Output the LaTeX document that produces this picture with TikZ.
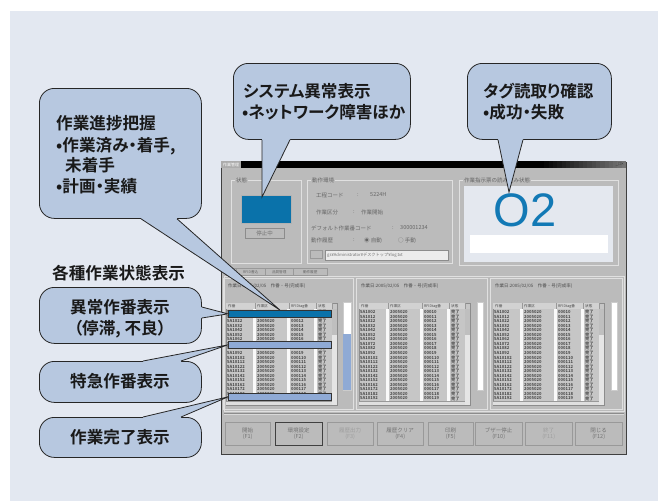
\documentclass[tikz,border=0pt]{standalone}
\usepackage{fontspec}
\newfontfamily\jpb{Noto Sans CJK JP Bold}[RawFeature=+palt]
\newfontfamily\jpr{Noto Sans CJK JP}
\newfontfamily\lsans{Liberation Sans}
\usetikzlibrary{calc}
\definecolor{bgc}{HTML}{E3E8F1}
\definecolor{bubc}{HTML}{B7C8E0}
\definecolor{winc}{HTML}{BBBBBB}
\definecolor{listc}{HTML}{C6C6C6}
\definecolor{darkblue}{HTML}{0A72AA}
\definecolor{lightbar}{HTML}{8FAAD5}
\definecolor{o2c}{HTML}{1279B5}
\definecolor{o2bg}{HTML}{E4E8EF}
\tikzset{
  bubble/.style={draw=black!85, fill=bubc, line width=0.8pt, rounded corners=15pt, inner sep=0, anchor=north west},
  tailline/.style={draw=black!85, line width=0.8pt},
  ctext/.style={font=\jpb\fontsize{16.6}{21}\selectfont, inner sep=0, text=black!90},
  ui/.style={font=\jpr\fontsize{5.5}{6}\selectfont, inner sep=0, text=black!60, anchor=west},
  tiny/.style={font=\jpr\fontsize{3.6}{4}\selectfont, inner sep=0, text=black!70, anchor=west},
  cell/.style={font=\jpb\fontsize{4.2}{4.5}\selectfont, inner sep=0, text=black!75, anchor=west},
  etched/.style={draw=white!88!black, line width=0.6pt},
  hbar/.style={draw=black!80, line width=0.7pt, inner sep=0, anchor=north west, minimum width=103, minimum height=7},
  btn/.style={draw=black!40, fill=winc, inner sep=0, anchor=north west, minimum height=23, align=center, font=\jpr\fontsize{5.5}{6.5}\selectfont, text=black!55},
  tseg/.style={inner sep=0, outer sep=0, anchor=north west, minimum height=7, minimum width=4.4},
}
\begin{document}
\begin{tikzpicture}[x=1pt,y=-1pt]
\useasboundingbox (0,0) rectangle (658,501);
\fill[white] (0,0) rectangle (658,501);
\fill[bgc] (10,11) rectangle (658,501);

% ---------- window ----------
\node[draw=black!75, line width=0.8pt, fill=winc, inner sep=0, anchor=north west, minimum width=405, minimum height=292] (win) at (221,162) {};

% title bar
\node[tseg, fill=black, minimum width=320] (tbar) at (221,161.3) {};
\foreach \i in {0,...,19}{
  \pgfmathsetmacro{\shadeval}{100-\i*2.4}
  \node[tseg, fill=black!\shadeval] (tseg\i) at ({540+\i*4.3},161.3) {};
}
\node[tseg, fill=gray!65, minimum width=20] (ticon) at (221,161.3) {};
\node[font=\jpr\fontsize{4}{4}\selectfont, text=white, inner sep=0, anchor=west] (wtitle) at (223,164.8) {作業管理};
\node[font=\lsans\fontsize{4.5}{4.5}\selectfont, text=black!80, inner sep=0, anchor=east] (wbtns) at (624,164.8) {\_□×};

% upper groups
\draw[etched] (231,180) rectangle (301,263);
\node[ui, fill=winc, inner xsep=1pt] (lstate) at (235,180) {状態};
\node[draw=black!30, fill=darkblue, inner sep=0, anchor=north west, minimum width=50, minimum height=28] (statbox) at (241,195) {};
\node[draw=black!45, fill=winc, inner sep=0, anchor=north west, minimum width=39, minimum height=10, font=\jpr\fontsize{5.5}{6}\selectfont, text=black!55] (stopbtn) at (245,228) {停止中};

\draw[etched] (307,180) rectangle (452,263);
\node[ui, fill=winc, inner xsep=1pt] (lenv) at (311,180) {動作環境};
\node[ui] (k1) at (316,195) {工程コード};
\node[ui] (s1) at (357,195) {:};
\node[ui] (v1) at (370,195) {5224H};
\node[ui] (k2) at (316,212) {作業区分};
\node[ui] (s2) at (353,212) {:};
\node[ui] (v2) at (361,212) {作業開始};
\node[ui] (k3) at (311,228) {デフォルト作業番コード};
\node[ui] (s3) at (392,228) {:};
\node[ui] (v3) at (400,228) {300001234};
\node[ui] (k4) at (311,240) {動作履歴};
\node[ui] (s4) at (353,240) {:};
\node[ui] (v4) at (364,240) {◉ 自動};
\node[ui] (v5) at (398,240) {○ 手動};
\node[draw=black!40, fill=winc, inner sep=0, anchor=north west, minimum width=12, minimum height=8] (fbtn) at (310,250) {};
\node[draw=black!45, fill=gray!15, inner sep=1pt, anchor=north west, minimum width=123, minimum height=10, font=\jpr\fontsize{4.2}{5}\selectfont, text=black!55, text width=119] (field) at (325,250) {gs¥Administrator¥デスクトップ¥log.txt};

\draw[etched] (459,180) rectangle (618,265);
\node[ui, fill=winc, inner xsep=1pt] (lread) at (463,180) {作業指示票の読み込み状態};
\node[fill=o2bg, inner sep=0, anchor=north west, minimum width=149, minimum height=76] (o2panel) at (464,186) {};
\node[fill=white, inner sep=0, anchor=north west, minimum width=138, minimum height=18] (o2bar) at (470,235) {};
\node[font=\lsans\fontsize{47}{47}\selectfont, text=o2c, inner sep=0] (o2) at (525,210) {O2};

% tabs
\foreach \i/\xa/\xb/\t in {1/226/236/一覧, 2/236/265/RFID書込, 3/265/293/品質管理, 4/293/327/動作履歴}{
  \node[draw=black!40, fill=winc, inner sep=0, anchor=north west, minimum width={\xb-\xa}, minimum height=7, font=\jpr\fontsize{3.6}{4}\selectfont, text=black!60] (tab\i) at (\xa,268) {\t};
}
\draw[etched] (224,276) rectangle (624,411);

% lower panels
\foreach \p/\fx/\fw/\lx/\pbx/\pbw in {1/223/130/226/343/8, 2/356/131/359/477/6, 3/490/132/493/611/6}{
  \draw[etched] (\fx,278) rectangle ({\fx+\fw},409);
  \node[tiny, font=\jpr\fontsize{4.5}{5}\selectfont] (hdr\p) at ({\lx+2},286) {作業日:2005/02/05\quad 作番・号(完成率)};
  \node[draw=black!45, fill=listc, inner sep=0, anchor=north west, minimum width=111, minimum height=102] (list\p) at (\lx,303) {};
  \fill[gray!35] (\lx,303) rectangle ({\lx+106},309);
  \foreach \r in {0,...,19}{
    \node[cell] (r\p-\r a) at ({\lx+1},{312+\r*4.55}) {5A10\r2};
    \node[cell] (r\p-\r b) at ({\lx+31},{312+\r*4.55}) {2005020};
    \node[cell] (r\p-\r c) at ({\lx+65},{312+\r*4.55}) {0001\r};
    \node[cell] (r\p-\r d) at ({\lx+92},{312+\r*4.55}) {完了};
  }
  \foreach \c in {27,61,88}{
    \fill[white!95!gray] ({\lx+\c},309) rectangle ({\lx+\c+2.5},401);
  }
  \foreach \c in {29,63,90,106}{
    \draw[black!40, line width=0.4pt] ({\lx+\c},303) -- ({\lx+\c},309);
  }
  \node[tiny] (ch\p a) at ({\lx+2},306) {作番};
  \node[tiny] (ch\p b) at ({\lx+31},306) {作業区};
  \node[tiny] (ch\p c) at ({\lx+65},306) {RFIDtag番};
  \node[tiny] (ch\p d) at ({\lx+92},306) {状態};
  \fill[gray!20] ({\lx+106},309) rectangle ({\lx+111},405);
  \fill[gray!50] ({\lx+106},309) rectangle ({\lx+111},335);
  \fill[gray!25] (\lx,401) rectangle ({\lx+106},405);
  \draw[black!40, line width=0.4pt] (\lx,401) -- ({\lx+106},401);
  \node[fill=white, draw=black!20, line width=0.3pt, inner sep=0, anchor=north west, minimum width=\pbw, minimum height=88] (pb\p) at (\pbx,302) {};
}
\fill[lightbar] (343.3,334) rectangle (350.7,389.7);

% highlight bars in panel 1
\node[hbar, fill=darkblue] (bar1) at (228,310) {};
\node[hbar, fill=lightbar] (bar2) at (228,341) {};
\node[hbar, fill=lightbar] (bar3) at (228,393) {};

% bottom buttons
\draw[black!45, line width=0.6pt] (224,413) -- (624,413);
\draw[white!85!black, line width=0.6pt] (224,414) -- (624,414);
\foreach \i/\xa/\xb/\t/\tc in {1/225/270/{開始\\(F1)}/black!55, 2/275/322/{環境設定\\(F2)}/black!55, 3/327/373/{履歴出力\\(F3)}/black!38, 4/377/423/{履歴クリア\\(F4)}/black!55, 5/428/473/{印刷\\(F5)}/black!55, 6/475/522/{ブザー停止\\(F10)}/black!55, 7/525/572/{終了\\(F11)}/black!38, 8/575/622/{閉じる\\(F12)}/black!55}{
  \node[btn, minimum width={\xb-\xa}, text=\tc] (b\i) at (\xa,422) {\t};
}
\draw[black!75, line width=0.9pt] (b2.north west) rectangle (b2.south east);

% ---------- callouts ----------
% c1
\node[bubble, minimum width=162, minimum height=130] (c1) at (39,88) {};
\coordinate (c1a) at ($(c1.south west)+(102,0)$);
\coordinate (c1b) at ($(c1.south west)+(138,0)$);
\fill[bubc] ($(c1a)+(0,-1.5)$) -- (c1a) -- (bar1.north) -- (c1b) -- ($(c1b)+(0,-1.5)$) -- cycle;
\draw[tailline] (c1a) -- (bar1.north) -- (c1b);
\node[ctext, anchor=base west] (t1a) at (56,129.5) {作業進捗把握};
\node[ctext, anchor=base west] (t1b) at (56,151.5) {•作業済み・着手,};
\node[ctext, anchor=base west] (t1c) at (65,171.5) {未着手};
\node[ctext, anchor=base west] (t1d) at (56,192.5) {•計画・実績};

% c2
\node[bubble, minimum width=177, minimum height=76] (c2) at (233,63) {};
\coordinate (c2a) at ($(c2.south west)+(29,0)$);
\coordinate (c2b) at ($(c2.south west)+(57,0)$);
\coordinate (tip2) at ($(statbox.north west)+(21,2)$);
\fill[bubc] ($(c2a)+(0,-1.5)$) -- (c2a) -- (tip2) -- (c2b) -- ($(c2b)+(0,-1.5)$) -- cycle;
\draw[tailline] (c2a) -- (tip2) -- (c2b);
\node[ctext, anchor=base west] (t2a) at (243,97.5) {システム異常表示};
\node[ctext, anchor=base west] (t2b) at (242,118.5) {•ネットワーク障害ほか};

% c3
\node[bubble, minimum width=144, minimum height=76] (c3) at (467,63) {};
\coordinate (c3a) at ($(c3.south west)+(31,0)$);
\coordinate (c3b) at ($(c3.south west)+(56,0)$);
\coordinate (tip3) at ($(o2.north)+(-16,-1)$);
\fill[bubc] ($(c3a)+(0,-1.5)$) -- (c3a) -- (tip3) -- (c3b) -- ($(c3b)+(0,-1.5)$) -- cycle;
\draw[tailline] (c3a) -- (tip3) -- (c3b);
\node[ctext, anchor=base west] (t3a) at (483,97.5) {タグ読取り確認};
\node[ctext, anchor=base west] (t3b) at (483,118.5) {•成功・失敗};

% section title
\node[ctext, anchor=base west] (sect) at (52,279.5) {各種作業状態表示};

% c4
\node[bubble, minimum width=162, minimum height=56] (c4) at (39,287) {};
\coordinate (c4a) at ($(c4.north east)+(0,20)$);
\coordinate (c4b) at ($(c4.north east)+(0,31)$);
\fill[bubc] ($(c4a)+(-1.5,0)$) -- (c4a) -- (bar1.west) -- (c4b) -- ($(c4b)+(-1.5,0)$) -- cycle;
\draw[tailline] (c4a) -- (bar1.west) -- (c4b);
\node[ctext, anchor=base] (t4a) at (120,313.5) {異常作番表示};
\node[ctext, anchor=base] (t4b) at (120,334.5) {（停滞, 不良）};

% c5
\node[bubble, minimum width=162, minimum height=41] (c5) at (39,361) {};
\coordinate (c5a) at ($(c5.north west)+(104,0)$);
\coordinate (c5b) at ($(c5.north west)+(142,0)$);
\fill[bubc] ($(c5a)+(0,1.5)$) -- (c5a) -- (bar2.west) -- (c5b) -- ($(c5b)+(0,1.5)$) -- cycle;
\draw[tailline] (c5a) -- (bar2.west) -- (c5b);
\node[ctext, anchor=base] (t5) at (120,387.5) {特急作番表示};

% c6
\node[bubble, minimum width=162, minimum height=40] (c6) at (39,417) {};
\coordinate (c6a) at ($(c6.north west)+(104,0)$);
\coordinate (c6b) at ($(c6.north west)+(142,0)$);
\fill[bubc] ($(c6a)+(0,1.5)$) -- (c6a) -- (bar3.west) -- (c6b) -- ($(c6b)+(0,1.5)$) -- cycle;
\draw[tailline] (c6a) -- (bar3.west) -- (c6b);
\node[ctext, anchor=base] (t6) at (120,443.5) {作業完了表示};
\end{tikzpicture}
\end{document}
